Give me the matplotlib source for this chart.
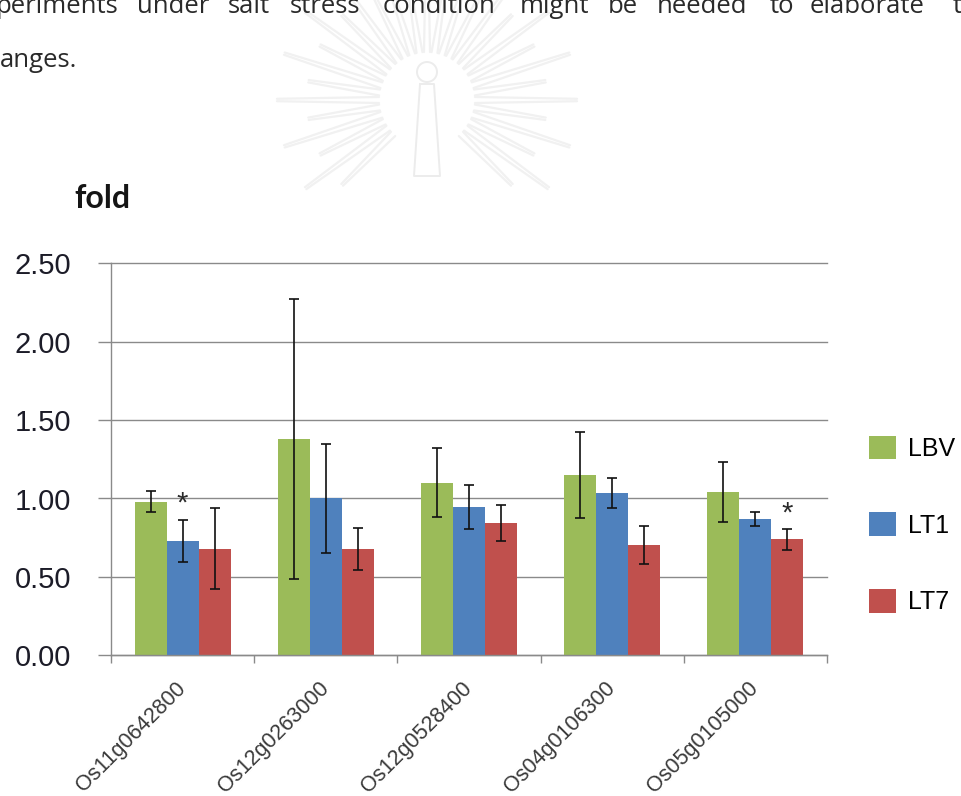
import numpy as np
import matplotlib
matplotlib.use("Agg")
import matplotlib.pyplot as plt

# relative expression (fold) of the five genes in the three lines
genes = ["Os11g0642800", "Os12g0263000", "Os12g0528400", "Os04g0106300", "Os05g0105000"]
lines = ["LBV", "LT1", "LT7"]

lbv = [0.98, 1.38, 1.10, 1.15, 1.04]
lbv_err = [0.066, 0.895, 0.22, 0.275, 0.19]
lt1 = [0.73, 1.00, 0.945, 1.035, 0.87]
lt1_err = [0.135, 0.35, 0.14, 0.095, 0.045]
lt7 = [0.68, 0.68, 0.845, 0.705, 0.74]
lt7_err = [0.257, 0.135, 0.116, 0.12, 0.066]

# bars marked as significantly different (*)
star_lt1 = [True, False, False, False, False]
star_lt7 = [False, False, False, False, True]

colors = ["#9BBB59", "#4F81BD", "#C0504D"]

# running text above the figure (page layout, justified line)
line1_words = ["periments", "under", "salt", "stress", "condition", "might",
               "be", "needed", "to", "elaborate", "the"]
line1_x = [-4, 137, 228, 290, 383, 520, 608, 657, 770, 810, 953]
line2 = "anges."

W, H = 962, 796
fig = plt.figure(figsize=(W / 100, H / 100), dpi=100)

# page background layer in pixel coordinates
bg = fig.add_axes([0, 0, 1, 1], zorder=-1)
bg.set_xlim(0, W)
bg.set_ylim(H, 0)
bg.axis("off")

# faint emblem watermark
cx, cy = 427, 100
wm = "#f1f1f1"
for ang in np.arange(-45, 226, 9):
    a = np.deg2rad(ang)
    r0, r1 = 48, 150 if ang % 18 == 0 else 120
    d = np.array([np.cos(a), -np.sin(a)])
    n = np.array([-d[1], d[0]])
    for s in (-3, 3):
        p0 = np.array([cx, cy]) + d * r0 + n * s
        p1 = np.array([cx, cy]) + d * r1 + n * s * 0.4
        bg.plot([p0[0], p1[0]], [p0[1], p1[1]], color=wm, lw=1.6,
                solid_capstyle="round")
bg.add_patch(plt.Circle((cx, 72), 10, fill=False, ec="#ececec", lw=1.4))
bg.plot([420, 414, 440, 434, 420], [84, 176, 176, 84, 84], color="#ececec", lw=1.4)

for wd, xp in zip(line1_words, line1_x):
    bg.text(xp, 13, wd, fontsize=18.5, family="Open Sans",
            color="#2a2a2a", va="baseline", ha="left")
bg.text(0, 67, line2, fontsize=18.5, family="Open Sans",
        color="#2a2a2a", va="baseline", ha="left")

# chart
ax = fig.add_axes([111 / W, 1 - 655.3 / H, 716 / W, 392 / H])
x = np.arange(len(genes))
w = 0.2235
series = [(lbv, lbv_err), (lt1, lt1_err), (lt7, lt7_err)]
for i, ((vals, errs), col, name) in enumerate(zip(series, colors, lines)):
    xs = x + (i - 1) * w
    ax.bar(xs, vals, w, color=col, label=name, zorder=2)
    ax.errorbar(xs, vals, yerr=errs, fmt="none", ecolor="#111111",
                elinewidth=1.2, capsize=3.6, capthick=1.2, zorder=3)

for flags, (vals, errs), off in ((star_lt1, series[1], 0), (star_lt7, series[2], 1)):
    for k, flag in enumerate(flags):
        if flag:
            ax.text(x[k] + off * w, vals[k] + errs[k] + 0.1, "*", ha="center",
                    va="center", fontsize=21, family="Liberation Sans", color="#2a2a2a")

ax.set_xlim(-0.5, len(genes) - 0.5)
ax.set_ylim(0, 2.5)
ax.set_yticks(np.arange(0, 2.51, 0.5))
ax.set_yticklabels(["%.2f" % v for v in np.arange(0, 2.51, 0.5)],
                   family="Liberation Sans", fontsize=21, color="#1c1c28")
ax.yaxis.grid(True, color="#8a8a8a", lw=1.0, zorder=0)
for gl in ax.get_ygridlines():
    gl.set_clip_on(False)
ax.set_axisbelow(True)

for sp in ("top", "right"):
    ax.spines[sp].set_visible(False)
for sp in ("left", "bottom"):
    ax.spines[sp].set_color("#8a8a8a")
    ax.spines[sp].set_linewidth(1.0)

ax.tick_params(axis="y", length=9.4, width=1.0, color="#8a8a8a", pad=19.4)
ax.set_xticks(x)
ax.set_xticks(np.arange(-0.5, len(genes), 1.0), minor=True)
ax.tick_params(axis="x", which="minor", length=5.8, width=1.0, color="#8a8a8a")
ax.tick_params(axis="x", which="major", length=0, pad=21.5)
ax.set_xticklabels(genes, rotation=45, ha="right", va="center", rotation_mode="anchor",
                   family="Liberation Sans", fontsize=15.5, color="#3a3a3a")

fig.text(74 / W, 1 - 208 / H, "fold", family="Lato", weight="bold", fontsize=23,
         color="#151515", va="baseline")

ax.legend(loc="center left", bbox_to_anchor=(869 / W, 1 - 525 / H),
          bbox_transform=fig.transFigure, frameon=False,
          prop={"family": "Liberation Sans", "size": 18},
          handlelength=1.08, handleheight=1.08, labelspacing=2.05,
          handletextpad=0.48, borderpad=0, borderaxespad=0)

fig.savefig("out.png", dpi=100, facecolor="white")
